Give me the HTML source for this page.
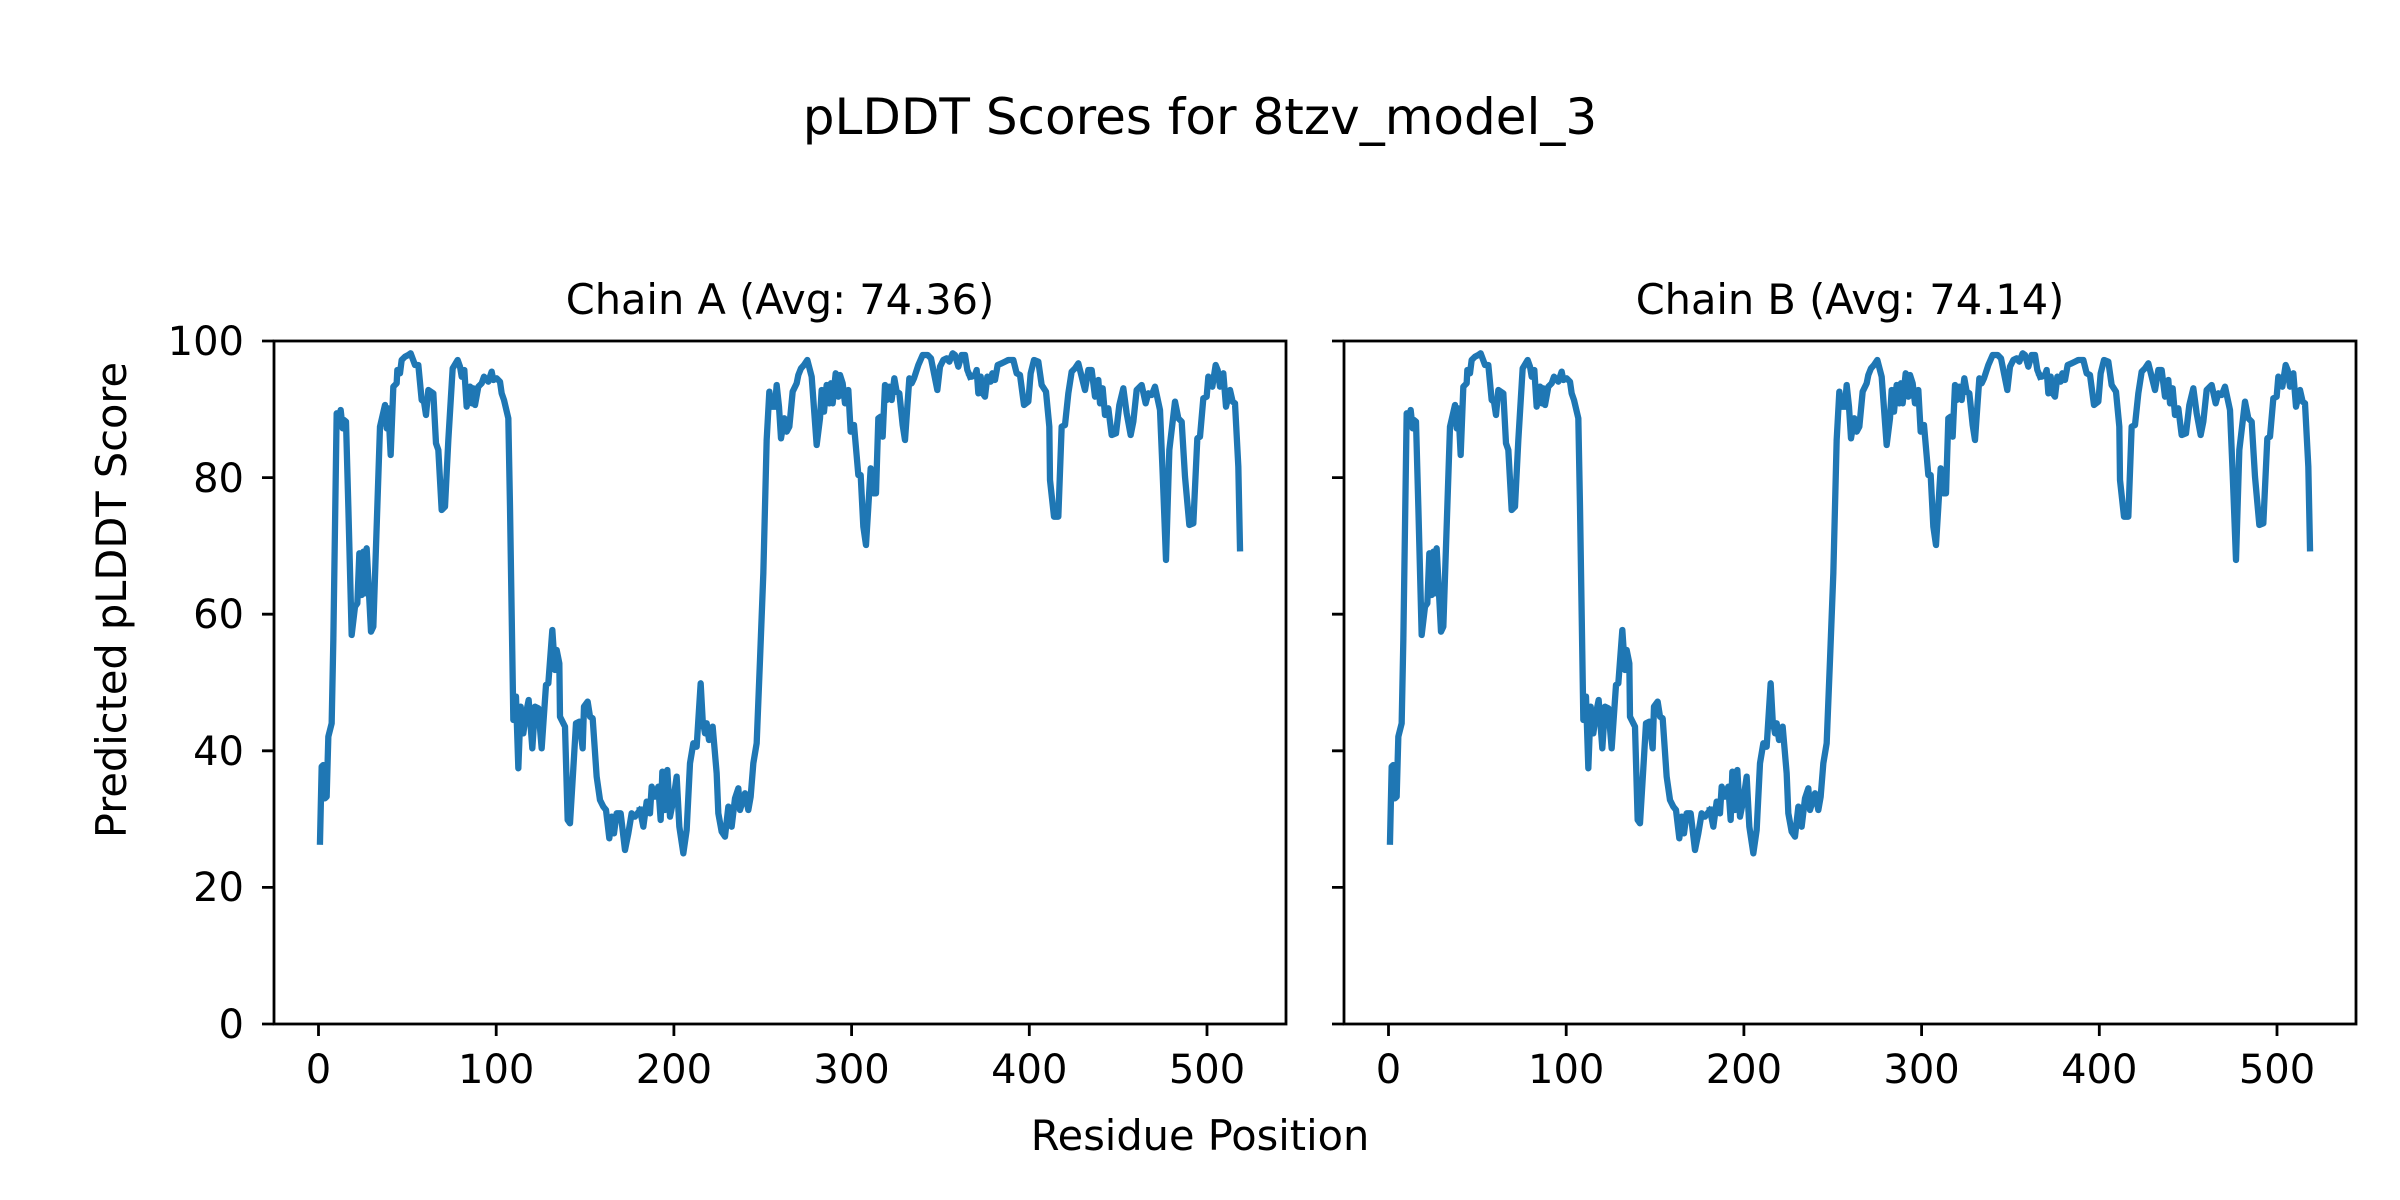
<!DOCTYPE html>
<html><head><meta charset="utf-8"><style>
html,body{margin:0;padding:0;background:#fff;}
svg{display:block;font-family:"DejaVu Sans","Liberation Sans",sans-serif;}
</style></head><body>
<svg width="2400" height="1200" viewBox="0 0 2400 1200" xmlns="http://www.w3.org/2000/svg">
<rect width="2400" height="1200" fill="#fff"/>
<text x="1200" y="134" font-size="50" text-anchor="middle">pLDDT Scores for 8tzv_model_3</text>
<text x="780" y="314" font-size="41.5" text-anchor="middle">Chain A (Avg: 74.36)</text>
<text x="1850" y="314" font-size="41.5" text-anchor="middle">Chain B (Avg: 74.14)</text>
<text x="1200" y="1150" font-size="41.5" text-anchor="middle">Residue Position</text>
<text transform="translate(126,600) rotate(-90)" font-size="41.5" text-anchor="middle">Predicted pLDDT Score</text>

<defs>
<g id="series" fill="none" stroke="#1f77b4" stroke-width="6.3" stroke-linejoin="round" stroke-linecap="square">
<polyline vector-effect="non-scaling-stroke" transform="translate(300,340) scale(0.33333)" points="60,1505 65,1280 70,1275 75,1375 80,1370 85,1190 95,1150 100,900 110,220 118,225 122,210 128,265 132,240 138,245 145,500 155,885 165,800 172,790 178,640 185,765 190,635 195,760 200,625 213,875 220,860 240,260 255,195 260,265 265,205 272,345 280,140 290,130 292,90 300,100 305,60 315,50 325,45 332,40 345,75 355,75 365,180 372,185 378,225 385,150 400,160 408,310 415,330 425,510 435,500 445,300 458,85 473,60 480,80 485,110 493,90 500,200 510,140 515,190 520,145 525,195 535,140 545,130 552,110 565,125 575,95 580,120 590,115 600,125 605,160 612,180 625,235 630,500 640,1140 648,1070 655,1285 662,1100 670,1180 678,1120 686,1080 697,1225 705,1100 715,1105 725,1225 738,1035 745,1030 757,870 765,990 770,930 778,970 780,1130 795,1160 803,1440 810,1450 820,1285 828,1150 838,1145 848,1225 852,1100 863,1085 870,1130 878,1135 890,1310 900,1380 910,1400 918,1410 928,1495 935,1430 942,1480 950,1420 962,1420 975,1530 985,1480 995,1420 1005,1430 1020,1410"/>
<polyline vector-effect="non-scaling-stroke" transform="translate(630,340) scale(0.33333)" points="30,1410 40,1460 50,1385 60,1420 65,1340 75,1370 85,1340 92,1440 97,1295 105,1410 112,1290 120,1430 130,1380 140,1310 148,1460 160,1540 170,1470 180,1270 190,1210 200,1220 205,1140 212,1030 218,1140 225,1180 230,1150 237,1200 248,1160 260,1300 265,1420 275,1475 285,1490 295,1400 305,1460 315,1375 325,1345 330,1410 345,1360 355,1410 362,1370 370,1270 380,1210 390,960 400,700 410,300 418,155 425,200 435,200 440,135 447,200 453,295 463,235 470,275 478,260 488,155 500,130 505,105 513,85 522,75 532,60 545,110 560,315 570,235 575,150 582,215 590,135 598,190 603,130 608,190 617,100 625,170 630,105 638,130 645,190 655,150 662,275 672,255 685,405 692,405 700,560 708,615 715,500 722,385 730,460 738,460 745,235 752,230 758,290 765,135 770,180 778,140 785,180 793,115 800,155 808,160 818,255 825,300 838,115 845,130 852,115 865,75 878,45 893,45 903,55 913,105 922,150 930,80 940,60 950,55 958,65 968,40 975,45 985,80 995,45 1005,45 1012,90 1020,110"/>
<polyline vector-effect="non-scaling-stroke" transform="translate(960,340) scale(0.33333)" points="30,105 35,110 45,105 50,90 55,160 62,110 68,160 75,170 82,110 92,125 97,100 105,120 113,75 125,70 135,65 145,60 160,60 170,100 180,105 192,195 205,185 212,100 222,60 235,65 245,135 258,155 268,260 270,420 282,530 295,530 305,260 315,255 325,160 335,95 345,85 355,70 365,110 375,150 385,90 395,90 405,170 415,120 420,190 428,145 435,225 445,205 455,285 468,280 478,195 490,145 500,220 512,285 520,245 530,150 545,135 557,190 565,160 575,165 585,140 600,210 608,400 618,660 628,330 645,185 655,235 665,245 675,410 688,555 700,550 712,295 720,290 730,175 740,170 745,110 757,140 767,75 773,90 780,140 790,100 798,200 810,150 818,185 825,190 835,380 840,625"/>
</g>
</defs>

<use href="#series"/>
<use href="#series" transform="translate(1070,0)"/>

<g stroke="#000" stroke-width="2.8" fill="none">
<rect x="274" y="341" width="1012" height="683"/>
<rect x="1344" y="341" width="1012" height="683"/>
<path d="M262 1024H274M262 887.4H274M262 750.8H274M262 614.2H274M262 477.6H274M262 341H274
M1332 1024H1344M1332 887.4H1344M1332 750.8H1344M1332 614.2H1344M1332 477.6H1344M1332 341H1344
M318.5 1024V1036M496.2 1024V1036M673.9 1024V1036M851.6 1024V1036M1029.3 1024V1036M1207 1024V1036
M1388.5 1024V1036M1566.2 1024V1036M1743.9 1024V1036M1921.6 1024V1036M2099.3 1024V1036M2277 1024V1036"/>
</g>

<g font-size="40" text-anchor="end">
<text x="244" y="1038">0</text>
<text x="244" y="901">20</text>
<text x="244" y="765">40</text>
<text x="244" y="628">60</text>
<text x="244" y="492">80</text>
<text x="244" y="355">100</text>
</g>
<g font-size="40" text-anchor="middle">
<text x="318.5" y="1083">0</text>
<text x="496.2" y="1083">100</text>
<text x="673.9" y="1083">200</text>
<text x="851.6" y="1083">300</text>
<text x="1029.3" y="1083">400</text>
<text x="1207" y="1083">500</text>
<text x="1388.5" y="1083">0</text>
<text x="1566.2" y="1083">100</text>
<text x="1743.9" y="1083">200</text>
<text x="1921.6" y="1083">300</text>
<text x="2099.3" y="1083">400</text>
<text x="2277" y="1083">500</text>
</g>
</svg>
</body></html>
